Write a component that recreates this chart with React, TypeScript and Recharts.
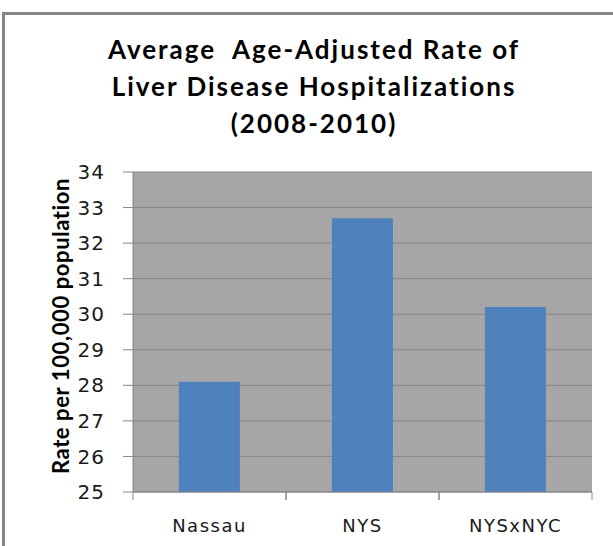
import React from 'react';
import { BarChart, Bar, XAxis, YAxis, CartesianGrid } from 'recharts';

const regions = ['Nassau', 'NYS', 'NYSxNYC'];
const rates = [28.1, 32.7, 30.2];
const yTicks = [25, 26, 27, 28, 29, 30, 31, 32, 33, 34];
const titleLines = ['Average  Age-Adjusted Rate of', 'Liver Disease Hospitalizations', '(2008-2010)'];
const yLabel = 'Rate per 100,000 population';

const data = regions.map((region, i) => ({ region, rate: rates[i] }));

const AXIS_GRAY = '#868686';
const TICK_FONT = '"DejaVu Sans", sans-serif';

function CategoryTick(props: any) {
  const { x, y, payload } = props;
  const half = payload?.offset ?? 76.5;
  return (
    <g>
      <line x1={x - half} x2={x - half} y1={y - 8} y2={y} stroke={AXIS_GRAY} />
      <line x1={x + half} x2={x + half} y1={y - 8} y2={y} stroke={AXIS_GRAY} />
      <text
        x={x}
        y={y + 25}
        textAnchor="middle"
        dominantBaseline="central"
        fontFamily={TICK_FONT}
        fontSize={18}
        letterSpacing={1.5}
        fill="#1a1a1a"
      >
        {payload.value}
      </text>
    </g>
  );
}

export default function App() {
  return (
    <div style={{ position: 'absolute', left: 0, top: 0, width: 613, height: 546, background: '#fff', overflow: 'hidden' }}>
      <div
        style={{
          position: 'absolute',
          left: 2,
          top: 12,
          width: 640,
          height: 600,
          borderTop: '3px solid #868686',
          borderLeft: '3px solid #868686',
        }}
      />
      <div
        style={{
          position: 'absolute',
          left: 0,
          top: 31,
          width: 628,
          textAlign: 'center',
          fontFamily: 'Lato, sans-serif',
          fontWeight: 700,
          fontSize: 26,
          letterSpacing: 2,
          lineHeight: '37px',
          color: '#000',
          whiteSpace: 'pre',
        }}
      >
        {titleLines.map((t) => (
          <div key={t}>{t}</div>
        ))}
      </div>
      <div style={{ position: 'absolute', left: 0, top: 0 }}>
        <BarChart
          width={613}
          height={546}
          data={data}
          margin={{ top: 172, right: 21, bottom: 0, left: 0 }}
          barCategoryGap="30%"
        >
          <CartesianGrid vertical={false} fill="#a6a6a6" stroke={AXIS_GRAY} fillOpacity={1} />
          <XAxis
            dataKey="region"
            height={54}
            axisLine={{ stroke: AXIS_GRAY }}
            tickLine={false}
            tickSize={8}
            tickMargin={0}
            interval={0}
            tick={<CategoryTick />}
          />
          <YAxis
            width={133}
            domain={[25, 34]}
            ticks={yTicks}
            interval={0}
            allowDataOverflow
            axisLine={{ stroke: AXIS_GRAY }}
            tickLine={{ stroke: AXIS_GRAY }}
            tickSize={10}
            tickMargin={18}
            tick={{ fontFamily: TICK_FONT, fontSize: 20, letterSpacing: 1, fill: '#1a1a1a' }}
            label={{
              content: () => (
                <text
                  transform="translate(60,326) rotate(-90)"
                  textAnchor="middle"
                  dominantBaseline="central"
                  fontFamily="Lato, sans-serif"
                  fontWeight={700}
                  fontSize={22}
                  letterSpacing={0.6}
                  fill="#000"
                >
                  {yLabel}
                </text>
              ),
            }}
          />
          <Bar dataKey="rate" fill="#4f81bd" isAnimationActive={false} />
        </BarChart>
      </div>
    </div>
  );
}
